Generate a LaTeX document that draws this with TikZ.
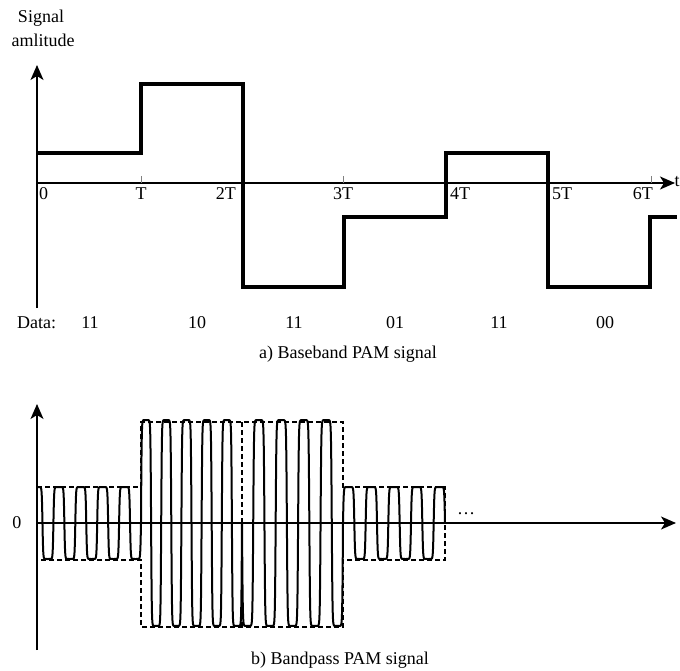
\documentclass[tikz,border=0pt]{standalone}
\usepackage{fontspec}
\setmainfont{Liberation Serif}
\usetikzlibrary{arrows.meta}
\begin{document}
\begin{tikzpicture}[x=1pt,y=-1pt,
  axis/.style={line width=1.5pt,-{Stealth[length=15pt,width=13pt,inset=4pt]}},
  sig/.style={line width=4.2pt,line join=miter},
  wave/.style={line width=2pt,line join=round},
  env/.style={line width=1.8pt,dash pattern=on 5pt off 3pt},
  tickmark/.style={line width=0.8pt,gray},
  lbl/.style={font=\fontsize{18}{22}\selectfont,inner sep=0pt}]
\useasboundingbox (0,0) rectangle (680,671);

% ---------- a) baseband ----------
\coordinate (aO) at (37,183);
\coordinate (aYb) at (37,308);
\coordinate (aYt) at (37,65);
\coordinate (aXe) at (675,183);
\draw[axis] (aYb) -- (aYt);
\draw[axis] (aO) -- (aXe);
\node[lbl,anchor=west] (tlab) at (674.5,182) {t};

\node[lbl,anchor=base] (sig1) at (41,23) {Signal};
\node[lbl,anchor=base] (sig2) at (43,47) {amlitude};

\foreach \xx/\nm in {141/tT,343/t3T,651/t6T}
  \draw[tickmark] (\xx,183) coordinate (\nm) -- (\xx,176);

\node[lbl,anchor=base west] (l0) at (39,200) {0};
\node[lbl,anchor=base] (l1) at (141,200) {T};
\node[lbl,anchor=base east] (l2) at (236,200) {2T};
\node[lbl,anchor=base] (l3) at (343,200) {3T};
\node[lbl,anchor=base west] (l4) at (450,200) {4T};
\node[lbl,anchor=base west] (l5) at (552,200) {5T};
\node[lbl,anchor=base east] (l6) at (653,200) {6T};

\draw[sig] (37,153) -- (141,153) -- (141,84) -- (243,84) -- (243,287)
  -- (344,287) -- (344,217) -- (446,217) -- (446,153) -- (548,153)
  -- (548,287) -- (650,287) -- (650,217) -- (677,217);

\node[lbl,anchor=base west] (dlab) at (17,328) {Data:};
\node[lbl,anchor=base] (d1) at (90,328) {11};
\node[lbl,anchor=base] (d2) at (197,328) {10};
\node[lbl,anchor=base] (d3) at (294,328) {11};
\node[lbl,anchor=base] (d4) at (395,328) {01};
\node[lbl,anchor=base] (d5) at (499,328) {11};
\node[lbl,anchor=base] (d6) at (605,328) {00};
\node[lbl,anchor=base] (capa) at (348,358) {a) Baseband PAM signal};

% ---------- b) bandpass ----------
\coordinate (bO) at (37,523);
\coordinate (bYb) at (37,650);
\coordinate (bYt) at (37,404);
\coordinate (bXe) at (676,523);
\draw[axis] (bYb) -- (bYt);
\draw[axis] (bO) -- (bXe);
\node[lbl,anchor=center] (b0) at (17,523) {0};
\node[lbl,anchor=base] (bdots) at (466,514) {\dots};

% dashed envelopes
\draw[env] (37,487) -- (141,487) -- (141,422) -- (343,422) -- (343,487) -- (445,487) -- (445,560) -- (343,560) -- (343,627) -- (141,627) -- (141,560) -- (37,560);
\draw[env] (242,422) -- (242,627);

% carrier
\draw[wave]
  plot[domain=0:1710,samples=600] ({37+\x/1710*104},{523-36*tanh(5*cos(\x))})
  -- plot[domain=270:2070,samples=600] ({141+(\x-270)/1800*101},{523-103*tanh(5*cos(\x))})
  -- plot[domain=270:1890,samples=600] ({242+(\x-270)/1620*101},{523+103*tanh(5*cos(\x))})
  -- plot[domain=90:1710,samples=600] ({343+(\x-90)/1620*102},{523+36*tanh(5*cos(\x))});

\node[lbl,anchor=base] (capb) at (340,664) {b) Bandpass PAM signal};
\end{tikzpicture}
\end{document}
